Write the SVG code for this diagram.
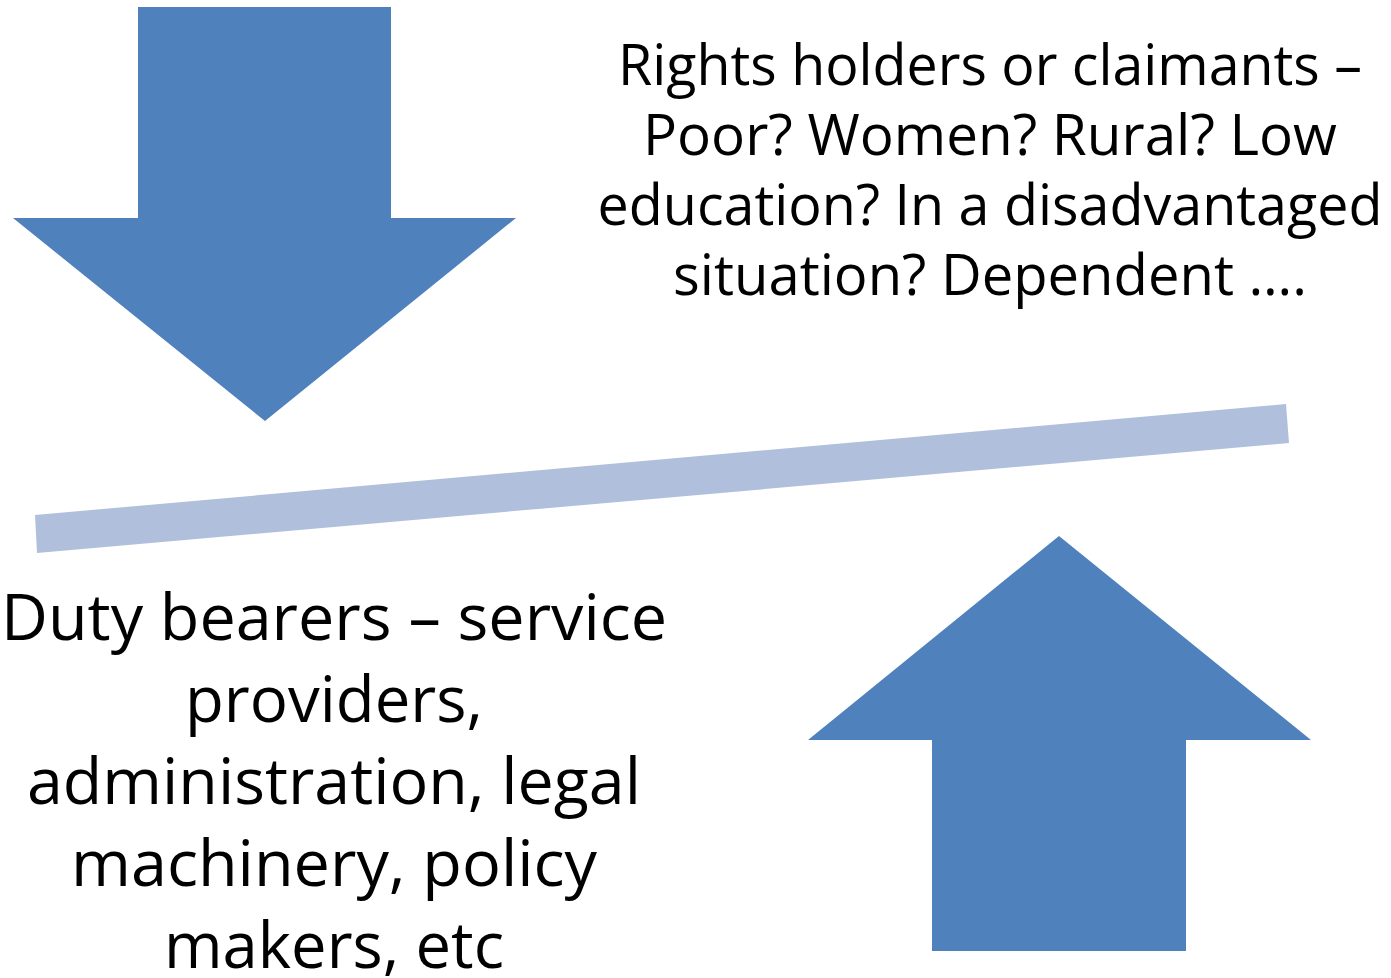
<svg xmlns="http://www.w3.org/2000/svg" width="1391" height="978" viewBox="0 0 1391 978">
<style>
.arrow{fill:#4F81BD}
.bar{fill:#B0C0DC}
.t{font-family:"Open Sans","Noto Sans","Liberation Sans",sans-serif;fill:#000;text-anchor:middle}
.tr{font-size:56px}
.bl{font-size:64px}
</style>
<rect width="1391" height="978" fill="#fff"/>
<g id="down-arrow"><polygon class="arrow" points="138,7 391,7 391,218 516,218 265,421 13,218 138,218"/></g>
<g id="up-arrow"><polygon class="arrow" points="1059,536 1311,740 1186,740 1186,951 932,951 932,740 808,740"/></g>
<g id="connectors"><polygon class="bar" points="35,515 1286,404 1289,443 37,553"/></g>
<g id="rights-holders">
<text class="t tr" x="990" y="85" textLength="744" lengthAdjust="spacingAndGlyphs">Rights holders or claimants –</text>
<text class="t tr" x="990" y="155" textLength="694" lengthAdjust="spacingAndGlyphs">Poor? Women? Rural? Low</text>
<text class="t tr" x="990" y="225" textLength="785" lengthAdjust="spacingAndGlyphs">education? In a disadvantaged</text>
<text class="t tr" x="990" y="295" textLength="634" lengthAdjust="spacingAndGlyphs">situation? Dependent ….</text>
</g>
<g id="duty-bearers">
<text class="t bl" x="334" y="640" textLength="666" lengthAdjust="spacingAndGlyphs">Duty bearers – service</text>
<text class="t bl" x="334" y="722" textLength="298" lengthAdjust="spacingAndGlyphs">providers,</text>
<text class="t bl" x="334" y="804" textLength="614" lengthAdjust="spacingAndGlyphs">administration, legal</text>
<text class="t bl" x="334" y="886" textLength="526" lengthAdjust="spacingAndGlyphs">machinery, policy</text>
<text class="t bl" x="334" y="968" textLength="340" lengthAdjust="spacingAndGlyphs">makers, etc</text>
</g>
</svg>
